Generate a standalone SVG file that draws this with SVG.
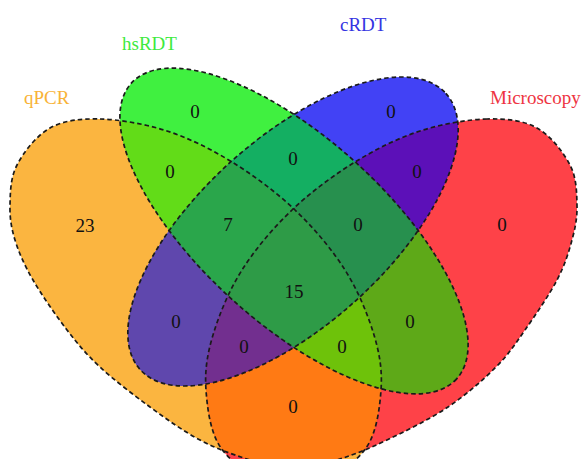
<svg xmlns="http://www.w3.org/2000/svg" xmlns:xlink="http://www.w3.org/1999/xlink" width="583" height="459" viewBox="0 0 583 459">
<style>
.outline{fill:none;stroke:#1a1a1a;stroke-width:1.7;stroke-dasharray:4.5 3}
.num{font-family:"Liberation Serif","Times New Roman",serif;font-size:19px;fill:#111;text-anchor:middle}
.lab{font-family:"Liberation Serif","Times New Roman",serif;font-size:19px}
</style>
<defs>
<path id="sq" d="M100,119 C119.5,119.5 145,123.83 167,131 C189,138.17 210.67,148.83 232,162 C253.33,175.17 276.17,192 295,210 C313.83,228 331.83,249.17 345,270 C358.17,290.83 368,315 374,335 C380,355 382.33,371.17 381,390 C379.67,408.83 376.5,433.33 366,448 C355.5,462.67 337.33,476 318,478 C298.67,480 269.67,466.33 250,460 C230.33,453.67 216.67,448.83 200,440 C183.33,431.17 166.67,419.17 150,407 C133.33,394.83 113.83,379.83 100,367 C86.17,354.17 78.17,344.5 67,330 C55.83,315.5 41.67,295 33,280 C24.33,265 18.83,252.5 15,240 C11.17,227.5 9.67,217.5 10,205 C10.33,192.5 10.33,177.83 17,165 C23.67,152.17 36.17,135.67 50,128 C63.83,120.33 80.5,118.5 100,119 Z"/>
<path id="sm" transform="matrix(-1,0,0,1,587,0)" d="M100,119 C119.5,119.5 145,123.83 167,131 C189,138.17 210.67,148.83 232,162 C253.33,175.17 276.17,192 295,210 C313.83,228 331.83,249.17 345,270 C358.17,290.83 368,315 374,335 C380,355 382.33,371.17 381,390 C379.67,408.83 376.5,433.33 366,448 C355.5,462.67 337.33,476 318,478 C298.67,480 269.67,466.33 250,460 C230.33,453.67 218.5,448.83 200,440 C181.5,431.17 157.17,419.17 139,407 C120.83,394.83 103.83,379.83 91,367 C78.17,354.17 72.17,344.5 62,330 C51.83,315.5 37.83,295 30,280 C22.17,265 18.33,252.5 15,240 C11.67,227.5 9.67,217.5 10,205 C10.33,192.5 10.33,177.83 17,165 C23.67,152.17 36.17,135.67 50,128 C63.83,120.33 80.5,118.5 100,119 Z"/>
<ellipse id="sh" cx="294" cy="231" rx="219.8" ry="92.3" transform="rotate(42.27 294 231)"/>
<ellipse id="sc" cx="293" cy="231.5" rx="206" ry="93.4" transform="rotate(-42.1 293 231.5)"/>
<clipPath id="cq"><use xlink:href="#sq"/></clipPath>
<clipPath id="ch"><use xlink:href="#sh"/></clipPath>
<clipPath id="cc"><use xlink:href="#sc"/></clipPath>
</defs>
<g id="regions">
<use xlink:href="#sq" fill="#FBB540"/>
<use xlink:href="#sh" fill="#40F040"/>
<use xlink:href="#sc" fill="#4242F5"/>
<use xlink:href="#sm" fill="#FE4248"/>
<g clip-path="url(#cq)"><use xlink:href="#sh" fill="#62DC18"/></g>
<g clip-path="url(#cq)"><use xlink:href="#sc" fill="#5F47AD"/></g>
<g clip-path="url(#cq)"><use xlink:href="#sm" fill="#FF7A14"/></g>
<g clip-path="url(#ch)"><use xlink:href="#sc" fill="#14AF62"/></g>
<g clip-path="url(#ch)"><use xlink:href="#sm" fill="#5EA918"/></g>
<g clip-path="url(#cc)"><use xlink:href="#sm" fill="#5C10B8"/></g>
<g clip-path="url(#cq)"><g clip-path="url(#ch)"><use xlink:href="#sc" fill="#2AA64B"/></g></g>
<g clip-path="url(#cq)"><g clip-path="url(#ch)"><use xlink:href="#sm" fill="#6EC20A"/></g></g>
<g clip-path="url(#cq)"><g clip-path="url(#cc)"><use xlink:href="#sm" fill="#722F8F"/></g></g>
<g clip-path="url(#ch)"><g clip-path="url(#cc)"><use xlink:href="#sm" fill="#27904E"/></g></g>
<g clip-path="url(#cq)"><g clip-path="url(#ch)"><g clip-path="url(#cc)"><use xlink:href="#sm" fill="#2E9B47"/></g></g></g>
</g>
<g id="qPCR"><use xlink:href="#sq" class="outline"/><text class="lab" x="24" y="104" fill="#F8B338">qPCR</text></g>
<g id="hsRDT"><use xlink:href="#sh" class="outline"/><text class="lab" x="122" y="50" fill="#3EEA3E">hsRDT</text></g>
<g id="cRDT"><use xlink:href="#sc" class="outline"/><text class="lab" x="340" y="31" fill="#3434E2">cRDT</text></g>
<g id="Microscopy"><use xlink:href="#sm" class="outline"/><text class="lab" x="490" y="104" fill="#EE3442">Microscopy</text></g>
<g id="counts">
<text class="num" x="85" y="232">23</text>
<text class="num" x="195" y="118">0</text>
<text class="num" x="391" y="118">0</text>
<text class="num" x="502" y="231">0</text>
<text class="num" x="170" y="178">0</text>
<text class="num" x="293" y="165">0</text>
<text class="num" x="417" y="178">0</text>
<text class="num" x="228" y="231">7</text>
<text class="num" x="358" y="231">0</text>
<text class="num" x="294" y="298">15</text>
<text class="num" x="176" y="328">0</text>
<text class="num" x="410" y="328">0</text>
<text class="num" x="244" y="353">0</text>
<text class="num" x="342" y="353">0</text>
<text class="num" x="293" y="413">0</text>
</g>
</svg>
